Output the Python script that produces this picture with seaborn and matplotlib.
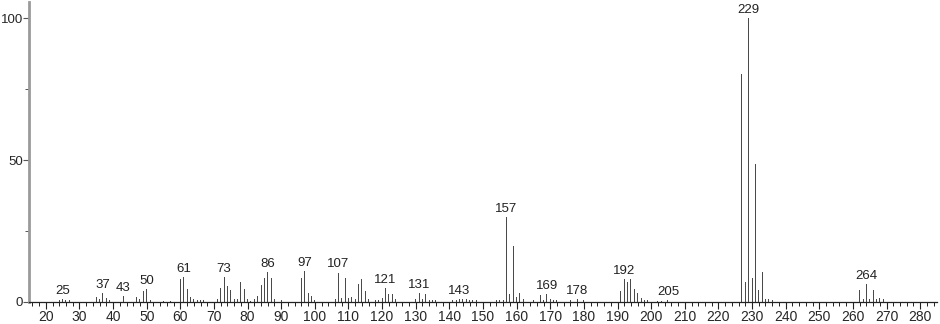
import matplotlib
matplotlib.use("Agg")
import matplotlib.pyplot as plt
import seaborn as sns
import pandas as pd
from matplotlib.ticker import MultipleLocator

mz = [24, 25, 26, 27, 35, 36, 37, 38, 39, 43, 47, 48, 49, 50, 51, 55, 57,
      60, 61, 62, 63, 64, 65, 66, 67, 71, 72, 73, 74, 75, 76, 77, 78, 79, 80,
      81, 82, 83, 84, 85, 86, 87, 88, 90, 96, 97, 98, 99, 100,
      106, 107, 108, 109, 110, 111, 112, 113, 114, 115, 116, 118, 119, 120,
      121, 122, 123, 124, 130, 131, 132, 133, 134, 135, 136,
      141, 142, 143, 144, 145, 146, 147, 148, 154, 155, 156, 157, 158, 159,
      160, 161, 162, 165, 167, 168, 169, 170, 171, 172, 176, 178, 180,
      191, 192, 193, 194, 195, 196, 197, 198, 199, 202, 203, 205,
      227, 228, 229, 230, 231, 232, 233, 234, 235, 236,
      262, 263, 264, 265, 266, 267, 268, 269]
intensity = [0.7, 0.9, 0.8, 0.6, 1.9, 0.9, 3.3, 1.3, 0.8, 2.1, 1.6, 0.9, 3.9, 4.6, 0.7, 0.4, 0.4,
             8.1, 8.7, 4.6, 1.9, 0.9, 0.8, 0.8, 0.7, 1.1, 4.8, 8.8, 5.6, 4.3, 1.0, 1.0, 7.2, 4.7, 1.2,
             0.5, 1.0, 2.1, 6.0, 8.6, 10.7, 8.3, 1.0, 0.6, 8.6, 11.0, 3.0, 2.2, 0.7,
             1.0, 10.4, 1.5, 8.3, 1.3, 1.8, 1.0, 6.2, 8.0, 4.0, 1.0, 0.7, 0.7, 1.5,
             5.0, 2.7, 2.7, 1.0, 1.1, 3.3, 1.0, 2.7, 0.8, 0.8, 0.7,
             0.7, 0.8, 1.1, 0.9, 1.0, 0.8, 0.7, 0.7, 0.6, 0.7, 0.8, 29.9, 2.8, 19.6,
             1.6, 3.2, 1.0, 0.7, 2.5, 0.8, 2.7, 1.0, 0.8, 0.7, 0.6, 0.9, 0.8,
             3.9, 8.2, 6.9, 8.0, 4.6, 3.1, 1.3, 0.8, 0.8, 0.5, 0.5, 0.7,
             80.3, 7.1, 100.0, 8.3, 48.8, 4.2, 10.7, 1.0, 1.0, 0.7,
             4.2, 1.0, 6.3, 1.0, 4.2, 1.0, 1.5, 0.9]
labelled = [25, 37, 43, 50, 61, 73, 86, 97, 107, 121, 131, 143, 157, 169,
            178, 192, 205, 229, 264]

df = pd.DataFrame({"mz": mz, "intensity": intensity})

sns.set_style("white")
plt.rcParams["font.family"] = ["Liberation Sans", "DejaVu Sans"]

fig = plt.figure(figsize=(9.4, 3.24), dpi=100)
ax = fig.add_axes([29 / 940, 1 - 302 / 324, (937 - 29) / 940, 300 / 324])

sns.barplot(data=df, x="mz", y="intensity", native_scale=True, width=0.3,
            color="#4a4a4a", saturation=1, linewidth=0, ax=ax)

lookup = dict(zip(mz, intensity))
for m in labelled:
    ax.annotate(str(m), xy=(m, lookup[m]), xytext=(0, 1.5), textcoords="offset points",
                ha="center", va="bottom", fontsize=9.5, color="#222222")

ax.set_xlim(15, 285)
ax.set_ylim(0, 105.8)
ax.xaxis.set_major_locator(MultipleLocator(10))
ax.xaxis.set_minor_locator(MultipleLocator(2))
ax.set_xticks(range(20, 281, 10))
ax.yaxis.set_major_locator(MultipleLocator(50))
ax.yaxis.set_minor_locator(MultipleLocator(25))
ax.set_xlabel("")
ax.set_ylabel("")

for s in ["top", "right"]:
    ax.spines[s].set_visible(False)
ax.spines["left"].set_color("#9a9a9a")
ax.spines["left"].set_linewidth(2)
ax.spines["bottom"].set_color("#222222")
ax.spines["bottom"].set_linewidth(0.9)

ax.tick_params(axis="x", which="major", direction="out", length=5, width=0.8,
               color="#222222", labelsize=10, pad=1, bottom=True)
ax.tick_params(axis="x", which="minor", direction="out", length=3, width=0.7,
               color="#222222", bottom=True)
ax.tick_params(axis="y", which="major", direction="out", length=4, width=0.8,
               color="#555555", labelsize=9.5, pad=0.5, left=True)
ax.tick_params(axis="y", which="minor", direction="out", length=3, width=0.7,
               color="#555555", left=True)

fig.savefig("out.png", dpi=100)
